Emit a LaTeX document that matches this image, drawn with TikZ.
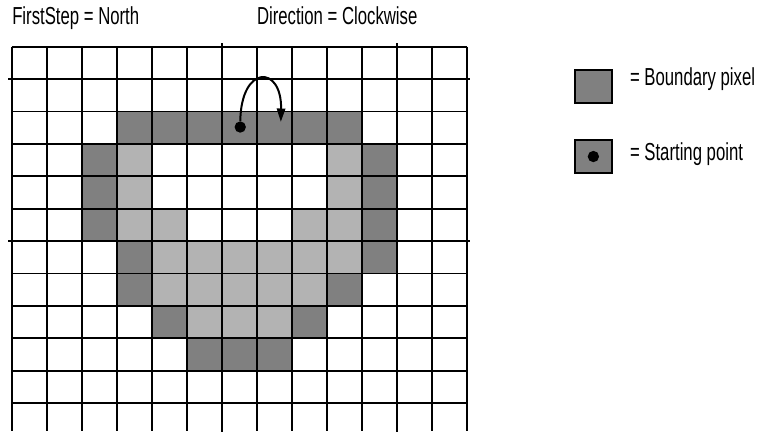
\documentclass[tikz,border=0pt]{standalone}
\usepackage{fontspec}
\setmainfont[FakeStretch=0.68]{Liberation Sans}
\definecolor{bndgray}{HTML}{808080}
\definecolor{ingray}{HTML}{B3B3B3}
\usepackage{tikz}
\usetikzlibrary{arrows.meta,positioning}

\begin{document}
\begin{tikzpicture}[
  x=10.5mm, y=-9.72mm,
  bcell/.style={fill=bndgray},
  icell/.style={fill=ingray},
  gline/.style={line width=1.5pt, color=black},
  lbl/.style={anchor=base west, inner sep=0pt, font=\fontsize{21}{24}\selectfont},
  dot/.style={circle, fill=black, inner sep=0pt, minimum size=3.4mm},
  key/.style={rectangle, draw, line width=1.4pt, fill=bndgray, minimum width=11mm,
              minimum height=9.9mm, inner sep=0pt},
  ar/.style={-{Triangle[length=4mm, width=2.5mm]}, line width=1.7pt},
]
\useasboundingbox (-0.334,-1.441) rectangle (21.723,11.892);

% pixels
\foreach \c/\r in {3/2,4/2,5/2,6/2,7/2,8/2,9/2, 2/3,10/3, 2/4,10/4, 2/5,10/5,
                   3/6,10/6, 3/7,9/7, 4/8,8/8, 5/9,6/9,7/9}
  \fill[bcell] (\c,\r) rectangle ++(1,1);
\foreach \c/\r in {3/3,9/3, 3/4,9/4, 3/5,4/5,8/5,9/5, 4/6,5/6,6/6,7/6,8/6,9/6,
                   4/7,5/7,6/7,7/7,8/7, 5/8,6/8,7/8}
  \fill[icell] (\c,\r) rectangle ++(1,1);

% grid
\foreach \c in {0,...,13} \draw[gline] (\c,0) -- (\c,11.85);
\foreach \r in {0,...,11} \draw[gline] (0,\r) -- (13,\r);
\foreach \c in {6,11} \draw[gline] (\c,-0.1) -- (\c,11.9);
\foreach \r in {1,6} \draw[gline] (-0.1,\r) -- (13.1,\r);

% titles
\node[lbl, anchor=base west] (fs) at (0.01,-0.67) {FirstStep = North};
\node[lbl, anchor=base] (dir) at (9.3,-0.67) {Direction = Clockwise};

% start point and first step
\node[dot] (start) at (6.53,2.48) {};
\coordinate (turn) at (7.69,2.32);
\draw[ar] (start) .. controls (6.55,0.55) and (7.72,0.55) .. (turn);

% legend
\node[key] (kb) at (16.62,1.23) {};
\node[key] (ks) at (16.62,3.39) {};
\node[dot] (ksd) at (ks) {};
\node[lbl] (tb) at (17.66,1.21) {= Boundary pixel};
\node[lbl] (ts) at (17.66,3.50) {= Starting point};
\end{tikzpicture}
\end{document}
